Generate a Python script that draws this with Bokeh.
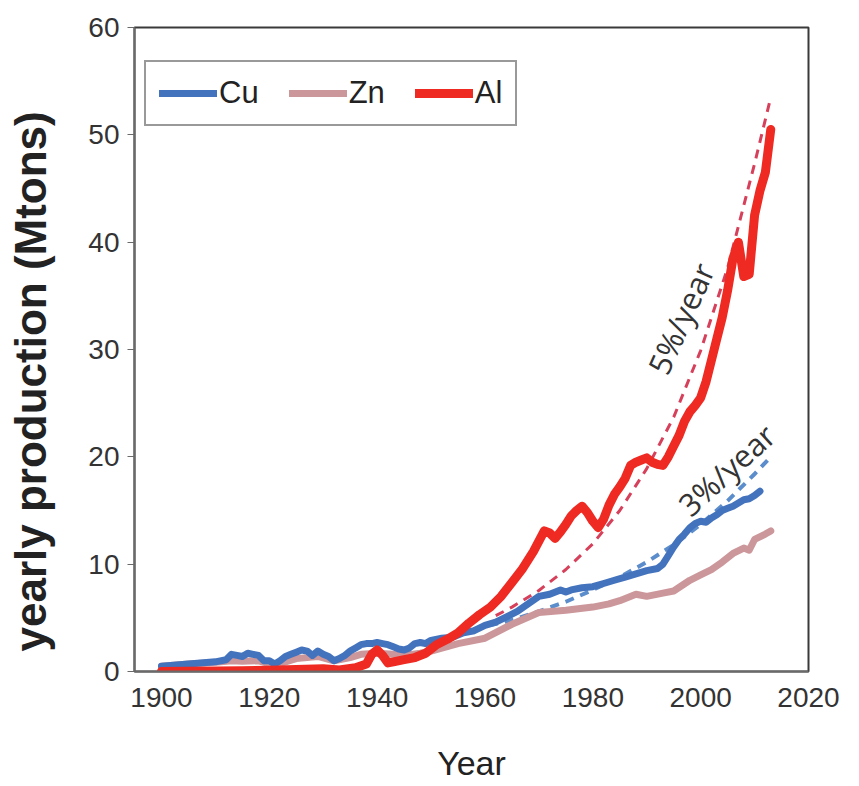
from bokeh.plotting import figure
from bokeh.models import Range1d, Legend, LegendItem, FixedTicker, Title
from bokeh.core.properties import value
from bokeh.embed import file_html
from bokeh.resources import INLINE

# ---------------- data ----------------
al_years = [1900, 1905, 1910, 1915, 1920, 1925, 1930, 1933, 1936, 1938, 1939, 1940, 1941, 1942,
            1943, 1945, 1947, 1949, 1951, 1953, 1955, 1957, 1959, 1961, 1963, 1965, 1967, 1969,
            1971, 1972, 1973, 1974, 1975, 1976, 1977, 1978, 1979, 1980, 1981, 1982, 1983, 1984,
            1985, 1986, 1987, 1988, 1989, 1990, 1991, 1992, 1993, 1994, 1995, 1996, 1997, 1998,
            1999, 2000, 2001, 2002, 2003, 2004, 2005, 2006, 2007, 2008, 2009, 2010, 2011, 2012, 2013]
al_vals = [0.01, 0.02, 0.04, 0.08, 0.12, 0.18, 0.25, 0.15, 0.35, 0.7, 1.6, 2.0, 1.5, 0.8,
           0.9, 1.1, 1.3, 1.7, 2.5, 3.0, 3.6, 4.5, 5.3, 6.0, 7.0, 8.3, 9.6, 11.2,
           13.1, 12.9, 12.4, 13.0, 13.7, 14.5, 15.0, 15.4, 14.8, 14.0, 13.4, 14.2, 15.5, 16.5,
           17.2, 18.0, 19.2, 19.5, 19.7, 19.9, 19.5, 19.3, 19.2, 20.0, 21.0, 22.0, 23.3, 24.2,
           24.8, 25.5, 27.0, 29.0, 31.0, 33.0, 35.5, 38.5, 40.0, 36.8, 37.0, 42.5, 44.8, 46.5, 50.5]

cu_years = [1900, 1905, 1910, 1912, 1913, 1914, 1915, 1916, 1917, 1918, 1919, 1920, 1921, 1922,
            1923, 1924, 1925, 1926, 1927, 1928, 1929, 1930, 1931, 1932, 1933, 1934, 1935, 1936,
            1937, 1938, 1939, 1940, 1941, 1942, 1943, 1944, 1945, 1946, 1947, 1948, 1949, 1950,
            1952, 1954, 1956, 1958, 1960, 1962, 1964, 1966, 1968, 1970, 1972, 1974, 1975, 1976,
            1978, 1980, 1982, 1984, 1986, 1988, 1990, 1992, 1993, 1994, 1995, 1996, 1997, 1998,
            1999, 2000, 2001, 2002, 2003, 2004, 2005, 2006, 2007, 2008, 2009, 2010, 2011]
cu_vals = [0.5, 0.7, 0.9, 1.1, 1.6, 1.5, 1.4, 1.7, 1.6, 1.5, 1.0, 1.0, 0.7, 1.0,
           1.4, 1.6, 1.8, 2.0, 1.9, 1.5, 1.9, 1.6, 1.4, 1.0, 1.2, 1.5, 1.9, 2.2,
           2.5, 2.6, 2.6, 2.7, 2.6, 2.5, 2.3, 2.1, 2.0, 2.2, 2.6, 2.7, 2.6, 2.9,
           3.1, 3.2, 3.6, 3.8, 4.3, 4.6, 5.1, 5.6, 6.3, 7.0, 7.2, 7.6, 7.4, 7.6,
           7.8, 7.9, 8.2, 8.5, 8.8, 9.1, 9.4, 9.6, 10.0, 10.8, 11.6, 12.3, 12.8, 13.4,
           13.8, 14.0, 13.9, 14.3, 14.6, 15.0, 15.2, 15.4, 15.7, 16.0, 16.1, 16.4, 16.8]

zn_years = [1900, 1905, 1910, 1913, 1915, 1918, 1921, 1925, 1929, 1932, 1935, 1937, 1940, 1943,
            1945, 1948, 1950, 1955, 1960, 1965, 1970, 1975, 1980, 1983, 1985, 1988, 1990, 1993,
            1995, 1998, 2000, 2002, 2004, 2006, 2008, 2009, 2010, 2012, 2013]
zn_vals = [0.5, 0.7, 0.85, 1.0, 0.95, 1.0, 0.6, 1.2, 1.4, 1.0, 1.3, 1.6, 1.7, 1.6,
           1.5, 1.7, 1.9, 2.6, 3.1, 4.4, 5.5, 5.7, 6.0, 6.3, 6.6, 7.2, 7.0, 7.3,
           7.5, 8.5, 9.0, 9.5, 10.2, 11.0, 11.5, 11.3, 12.3, 12.8, 13.1]

trend5_years = [1962, 1965, 1970, 1975, 1980, 1985, 1990, 1995, 2000, 2005, 2010, 2013]
trend5_vals = [5.2, 6.0, 7.55, 9.5, 11.9, 15.0, 18.9, 23.7, 29.9, 37.6, 47.3, 53.5]

trend3_years = [1955, 1960, 1965, 1970, 1975, 1980, 1985, 1990, 1995, 2000, 2005, 2010, 2013]
trend3_vals = [3.6, 4.2, 4.8, 5.6, 6.5, 7.6, 8.8, 10.2, 11.8, 13.7, 15.9, 18.4, 20.0]

x_ticks = [1900, 1920, 1940, 1960, 1980, 2000, 2020]
y_ticks = [0, 10, 20, 30, 40, 50, 60]

labels = ["Cu", "Zn", "Al"]
colors = {"Cu": "#4473BD", "Zn": "#CC979B", "Al": "#EE2A22"}

# ---------------- figure ----------------
p = figure(width=848, height=784, output_backend="svg", toolbar_location=None,
           x_range=Range1d(1895, 2020), y_range=Range1d(0, 60),
           min_border_left=133, min_border_right=40, min_border_top=27, min_border_bottom=109)
p.background_fill_color = "white"
p.border_fill_color = "white"
p.outline_line_color = "#3a3a3a"
p.outline_line_width = 2
p.xgrid.visible = False
p.ygrid.visible = False

FONT = "Liberation Sans"

p.xaxis.ticker = FixedTicker(ticks=x_ticks)
p.yaxis.ticker = FixedTicker(ticks=y_ticks)
for ax in (p.xaxis[0], p.yaxis[0]):
    ax.major_label_text_font = FONT
    ax.major_label_text_font_size = "28px"
    ax.major_label_text_color = "#333333"
    ax.axis_label_text_font = FONT
    ax.axis_label_text_color = "#222222"
    ax.minor_tick_line_color = None
    ax.axis_line_color = "#6a6a6a"
    ax.axis_line_width = 2

p.xaxis.major_tick_line_color = None
p.xaxis.major_label_standoff = 10
p.xaxis.axis_label = "Year"
p.xaxis.axis_label_text_font_size = "34px"
p.xaxis.axis_label_text_font_style = "normal"
p.xaxis.axis_label_standoff = 34

p.yaxis.major_tick_out = 7
p.yaxis.major_tick_in = 0
p.yaxis.major_tick_line_color = "#6a6a6a"
p.yaxis.major_tick_line_width = 1
p.yaxis.major_label_standoff = 8
# a blank axis label only reserves some room between tick labels and the title
p.yaxis.axis_label = " "
p.yaxis.axis_label_text_font_size = "1px"
p.yaxis.axis_label_standoff = 24

# y-axis title: a side title so it can start near the bottom like the reference
ytitle = Title(text="yearly production (Mtons)", align="left", offset=20, standoff=6,
               text_font=FONT, text_font_size="44px", text_font_style="bold",
               text_color="#222222")
p.add_layout(ytitle, "left")

# trend lines
p.line(trend5_years, trend5_vals, line_color="#D6405A", line_width=3, line_dash="9 7")
p.line(trend3_years, trend3_vals, line_color="#5B8CCB", line_width=4, line_dash="9 7")

# series
r_zn = p.line(zn_years, zn_vals, line_color=colors["Zn"], line_width=7,
              line_join="round", line_cap="round")
r_cu = p.line(cu_years, cu_vals, line_color=colors["Cu"], line_width=7,
              line_join="round", line_cap="round")
r_al = p.line(al_years, al_vals, line_color=colors["Al"], line_width=9,
              line_join="round", line_cap="round")

# annotations
p.text(x=[1996.3], y=[32.9], text=["5%/year"], angle=1.15,
       text_font=value("Open Sans"), text_font_size="31px", text_color="#333333",
       text_align="center", text_baseline="middle")
p.text(x=[2004.8], y=[18.8], text=["3%/year"], angle=0.74,
       text_font=value("Open Sans"), text_font_size="31px", text_color="#333333",
       text_align="center", text_baseline="middle")

legend = Legend(items=[LegendItem(label=labels[0], renderers=[r_cu]),
                       LegendItem(label=labels[1], renderers=[r_zn]),
                       LegendItem(label=labels[2], renderers=[r_al])],
                orientation="horizontal", location=(10, 545))
legend.label_text_font = FONT
legend.label_text_font_size = "31px"
legend.label_text_color = "#222222"
legend.border_line_color = "#333333"
legend.border_line_width = 2
legend.padding = 13
legend.spacing = 30
legend.margin = 0
legend.glyph_width = 58
legend.glyph_height = 30
legend.label_standoff = 2
legend.background_fill_alpha = 1.0
p.add_layout(legend, "center")

open("out.html", "w").write(file_html(p, INLINE))
